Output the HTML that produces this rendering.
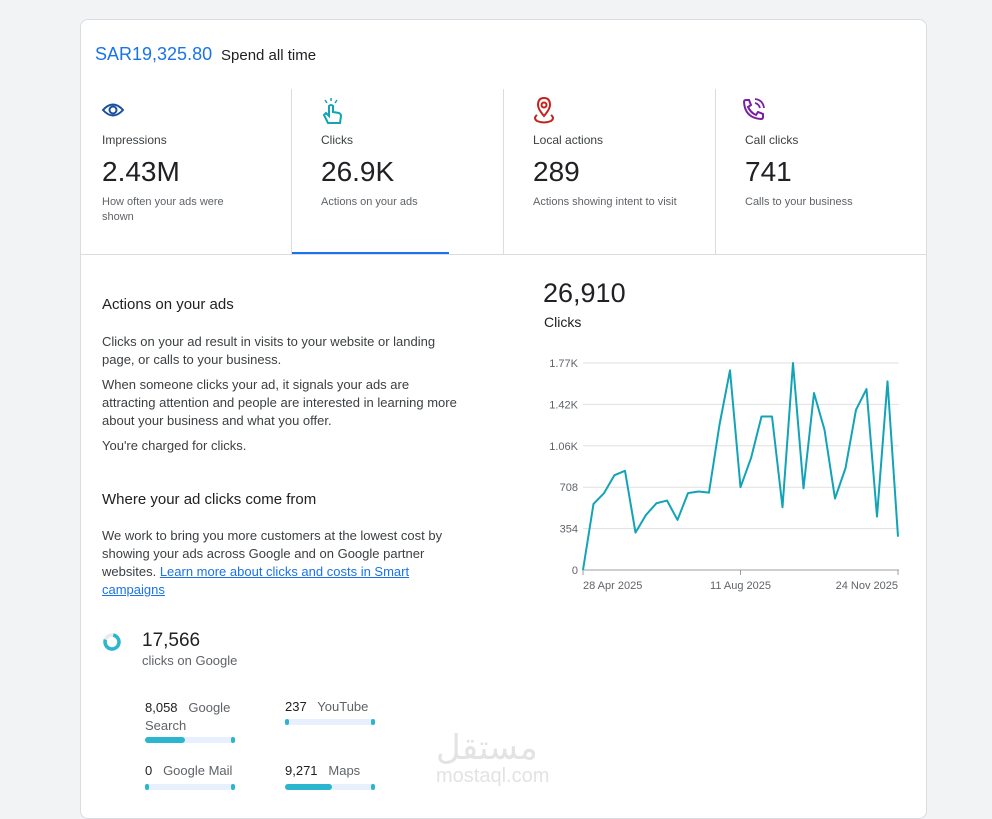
<!DOCTYPE html>
<html><head><meta charset="utf-8">
<style>
*{box-sizing:border-box;margin:0;padding:0}
body{width:992px;height:805px;background:#f1f3f4;font-family:"Liberation Sans",Arial,sans-serif;color:#3c4043;position:relative;overflow:hidden}
.a{position:absolute;white-space:nowrap}
#card{position:absolute;left:80px;top:19px;width:847px;height:800px;background:#fff;border:1px solid #dadce0;border-radius:8px}
.tl{font-size:12px;color:#3c4043}
.big{font-size:28px;color:#202124}
.sub{font-size:11px;color:#5f6368;line-height:15px}
.p{font-size:13px;color:#3c4043;line-height:18px}
.bar{position:absolute;height:6px;background:#e8f0fe;border-radius:3px}
.bar i{position:absolute;left:0;top:0;height:6px;background:#2cb5cf;border-radius:3px}
.bar b{position:absolute;right:0;top:0;width:4px;height:6px;background:#2cb5cf;border-radius:2px}
.bar em{position:absolute;left:0;top:0;width:4px;height:6px;background:#2cb5cf;border-radius:2px}
</style></head><body>
<div id="card"></div>
<div class="a" style="left:95px;top:44px;font-size:18px;color:#1a73e8">SAR19,325.80</div>
<div class="a" style="left:221px;top:47px;font-size:15px;color:#202124">Spend all time</div>

<div class="a" style="left:291px;top:89px;width:1px;height:165px;background:#dadce0"></div>
<div class="a" style="left:503px;top:89px;width:1px;height:165px;background:#dadce0"></div>
<div class="a" style="left:715px;top:89px;width:1px;height:165px;background:#dadce0"></div>
<div class="a" style="left:81px;top:254px;width:845px;height:1px;background:#dadce0"></div>
<div class="a" style="left:292px;top:252px;width:157px;height:2px;background:#1a73e8"></div>

<svg class="a" style="left:101px;top:98px" width="26" height="24"><path d="M2 12 Q12 1 22 12 Q12 23 2 12Z" fill="none" stroke="#1a4fa0" stroke-width="2"/><circle cx="12" cy="12" r="3.5" fill="none" stroke="#1a4fa0" stroke-width="2"/></svg>
<div class="a tl" style="left:102px;top:133px">Impressions</div>
<div class="a big" style="left:102px;top:156px">2.43M</div>
<div class="a sub" style="left:102px;top:195px">How often your ads were<br>shown</div>

<svg class="a" style="left:320px;top:97px" width="24" height="28"><path d="M8 26 L4 18 L6 16 L9 19 L9 9 Q11 7 13 9 L13 15 L19 16 Q21 17 21 19 L20 26Z" fill="none" stroke="#12a4b6" stroke-width="2"/><path d="M5 3l2 3M11 1v3M17 3l-2 3" stroke="#12a4b6" stroke-width="1.5"/></svg>
<div class="a tl" style="left:321px;top:133px">Clicks</div>
<div class="a big" style="left:321px;top:156px">26.9K</div>
<div class="a sub" style="left:321px;top:195px">Actions on your ads</div>

<svg class="a" style="left:532px;top:96px" width="24" height="28"><path d="M12 2 Q18 2 18 9 Q18 13 12 20 Q6 13 6 9 Q6 2 12 2Z" fill="none" stroke="#c5221f" stroke-width="2"/><circle cx="12" cy="9" r="2.5" fill="none" stroke="#c5221f" stroke-width="2"/><path d="M5 19 Q1 22 5 25 Q12 28 19 25 Q23 22 19 19" fill="none" stroke="#c5221f" stroke-width="2"/></svg>
<div class="a tl" style="left:533px;top:133px">Local actions</div>
<div class="a big" style="left:533px;top:156px">289</div>
<div class="a sub" style="left:533px;top:195px">Actions showing intent to visit</div>

<svg class="a" style="left:740px;top:97px" width="28" height="26"><path d="M4 5 Q4 3 6 3 L9 3 L11 8 L8 10 Q11 16 16 18 L18 15 L23 17 L23 20 Q23 22 21 22 Q5 21 4 5Z" fill="none" stroke="#7b1fa2" stroke-width="2"/><path d="M15 2 Q23 3 24 11M15 6 Q19 7 20 11" fill="none" stroke="#7b1fa2" stroke-width="1.8"/></svg>
<div class="a tl" style="left:745px;top:133px">Call clicks</div>
<div class="a big" style="left:745px;top:156px">741</div>
<div class="a sub" style="left:745px;top:195px">Calls to your business</div>

<div class="a" style="left:102px;top:296px;font-size:15px;color:#202124">Actions on your ads</div>
<div class="a p" style="left:102px;top:333px">Clicks on your ad result in visits to your website or landing<br>page, or calls to your business.</div>
<div class="a p" style="left:102px;top:376px">When someone clicks your ad, it signals your ads are<br>attracting attention and people are interested in learning more<br>about your business and what you offer.</div>
<div class="a p" style="left:102px;top:437px">You're charged for clicks.</div>
<div class="a" style="left:102px;top:491px;font-size:15px;color:#202124">Where your ad clicks come from</div>
<div class="a p" style="left:102px;top:527px">We work to bring you more customers at the lowest cost by<br>showing your ads across Google and on Google partner<br>websites. <span style="color:#1a73e8;text-decoration:underline">Learn more about clicks and costs in Smart</span><br><span style="color:#1a73e8;text-decoration:underline">campaigns</span></div>

<svg class="a" style="left:102px;top:632px" width="20" height="20"><circle cx="10" cy="10" r="7" fill="none" stroke="#e8eaed" stroke-width="3.5"/><circle cx="10" cy="10" r="7" fill="none" stroke="#2cb5cf" stroke-width="3.5" stroke-dasharray="34 44" transform="rotate(-80 10 10)"/></svg>
<div class="a" style="left:142px;top:630px;font-size:19px;color:#202124">17,566</div>
<div class="a" style="left:142px;top:653px;font-size:13px;color:#5f6368">clicks on Google</div>

<div class="a" style="left:145px;top:699px;font-size:13px;line-height:18px;color:#5f6368;white-space:normal;width:100px"><span style="color:#202124">8,058</span>&nbsp;&nbsp; Google Search</div>
<div class="bar" style="left:145px;top:737px;width:90px"><i style="width:40px"></i><b></b></div>
<div class="a" style="left:285px;top:699px;font-size:13px;color:#5f6368"><span style="color:#202124">237</span>&nbsp;&nbsp; YouTube</div>
<div class="bar" style="left:285px;top:719px;width:90px"><em></em><b></b></div>
<div class="a" style="left:145px;top:763px;font-size:13px;color:#5f6368"><span style="color:#202124">0</span>&nbsp;&nbsp; Google Mail</div>
<div class="bar" style="left:145px;top:784px;width:90px"><em></em><b></b></div>
<div class="a" style="left:285px;top:763px;font-size:13px;color:#5f6368"><span style="color:#202124">9,271</span>&nbsp;&nbsp; Maps</div>
<div class="bar" style="left:285px;top:784px;width:90px"><i style="width:47px"></i><b></b></div>

<div class="a" style="left:436px;top:728px;font-size:34px;color:#e3e3e3;font-family:'DejaVu Sans',sans-serif">مستقل</div>
<div class="a" style="left:436px;top:765px;font-size:20px;color:#e3e3e3">mostaql.com</div>

<div class="a" style="left:543px;top:278px;font-size:27px;color:#202124">26,910</div>
<div class="a" style="left:544px;top:314px;font-size:14px;color:#202124">Clicks</div>
<svg id="chart" class="a" style="left:530px;top:350px" width="380" height="250"></svg>

<script>
const categories = Array.from({length:31},(_,i)=>'w'+(i+1));
const clicks = [0,565,657,811,848,320,471,571,594,428,657,671,662,1242,1707,708,956,1313,1313,537,1770,699,1513,1199,611,871,1370,1547,457,1613,285];
const yTicks = [0,354,708,1062,1416,1770];
const yTickLabels = ['0','354','708','1.06K','1.42K','1.77K'];
const xTickIdx = [0,15,30];
const xTickLabels = ['28 Apr 2025','11 Aug 2025','24 Nov 2025'];
const svg = document.getElementById('chart');
const NS='http://www.w3.org/2000/svg';
const ox=530, oy=350;
const x0=583-ox, x1=898-ox, yb=570-oy, yt=363-oy;
const xs=i=>x0+(x1-x0)*i/(categories.length-1);
const ys=v=>yb-(yb-yt)*v/1770;
function mk(t,a){const e=document.createElementNS(NS,t);for(const k in a)e.setAttribute(k,a[k]);svg.appendChild(e);return e;}
yTicks.forEach((v,i)=>{
  const l=mk('line',{x1:x0,x2:x1+1,y1:ys(v),y2:ys(v),stroke:i==0?'#9aa0a6':'#e0e0e0','stroke-width':1});
  
  
  const t=mk('text',{x:x0-5,y:ys(v)+4,'text-anchor':'end','font-size':11,fill:'#5f6368','font-family':'Liberation Sans'});
  t.textContent=yTickLabels[i];
  
  
});
xTickIdx.forEach((idx,i)=>{
  mk('line',{x1:xs(idx),x2:xs(idx),y1:yb,y2:yb+5,stroke:'#9aa0a6'});
  const t=mk('text',{x:xs(idx),y:yb+19,'text-anchor':i==0?'start':(i==2?'end':'middle'),'font-size':11,fill:'#5f6368','font-family':'Liberation Sans'});
  t.textContent=xTickLabels[i];
  
  
});
const p=mk('polyline',{points:clicks.map((v,i)=>xs(i)+','+ys(v)).join(' '),fill:'none',stroke:'#12a4b6','stroke-width':2,'stroke-linejoin':'round'});


</script>
</body></html>
